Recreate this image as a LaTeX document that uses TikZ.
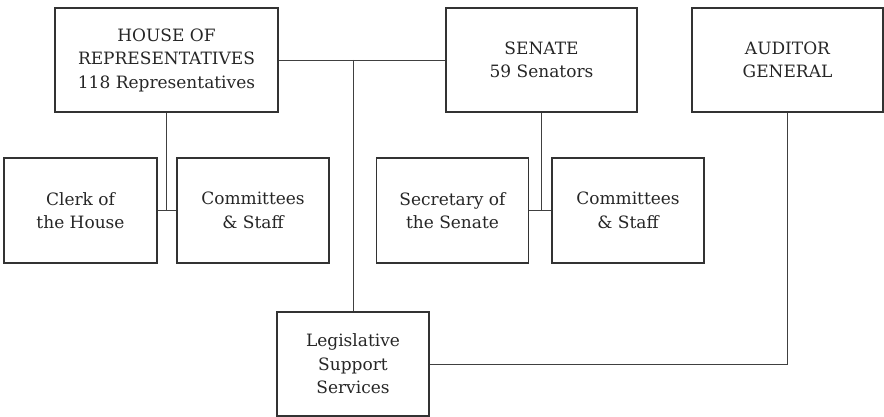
\documentclass[tikz,border=0pt]{standalone}
\usepackage{fontspec}
\setmainfont{DejaVu Serif}
\begin{document}
\begin{tikzpicture}[x=1pt,y=-1pt,
  box/.style={draw=black!80,line width=1.1pt,inner sep=0pt,align=center,
    font=\fontsize{17}{23.5}\selectfont,text=black!85},
  link/.style={draw=black!75,line width=0.8pt}]
\useasboundingbox (0,0) rectangle (884,417);
\node[box,minimum width=223pt,minimum height=104pt] (house) at (166.5,60) {HOUSE OF\\REPRESENTATIVES\\118 Representatives};
\node[box,minimum width=191pt,minimum height=104pt] (senate) at (541.5,60) {SENATE\\59 Senators};
\node[box,minimum width=191pt,minimum height=104pt] (auditor) at (787.5,60) {AUDITOR\\GENERAL};
\node[box,minimum width=153pt,minimum height=105pt] (clerk) at (80.5,210.5) {Clerk of\\the House};
\node[box,minimum width=152pt,minimum height=105pt] (commh) at (253,210.5) {Committees\\\& Staff};
\node[box,minimum width=152pt,minimum height=105pt] (secr) at (452.5,210.5) {Secretary of\\the Senate};
\node[box,minimum width=152pt,minimum height=105pt] (comms) at (628,210.5) {Committees\\\& Staff};
\node[box,minimum width=152pt,minimum height=104pt] (legis) at (353,364) {Legislative\\Support\\Services};
\coordinate (mid) at (353,60);
\coordinate (hj) at (166.5,210);
\coordinate (sj) at (541.5,210);
\draw[link] (house.east) -- (senate.west);
\draw[link] (mid) -- (legis.north);
\draw[link] (house.south) -- (hj);
\draw[link] (clerk.east) -- (commh.west);
\draw[link] (senate.south) -- (sj);
\draw[link] (secr.east) -- (comms.west);
\draw[link] (legis.east) -| (auditor.south);
\end{tikzpicture}
\end{document}
